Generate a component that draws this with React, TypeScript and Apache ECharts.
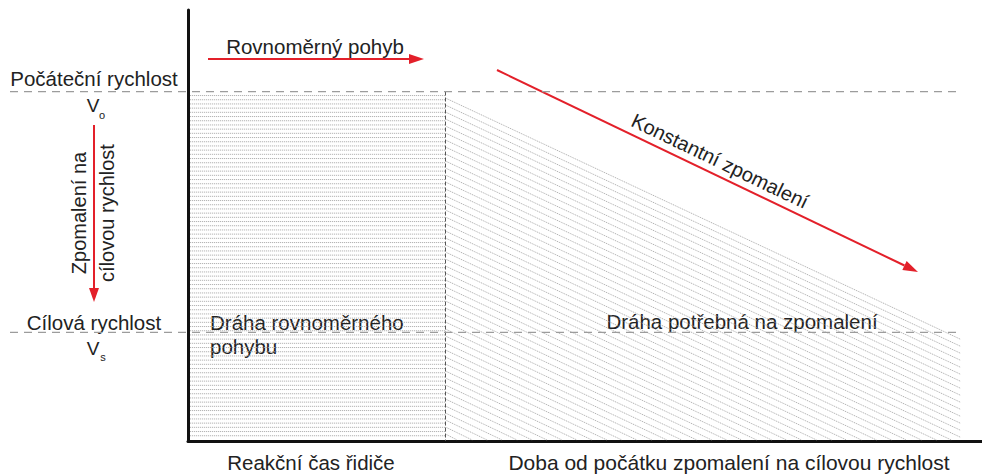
import React, { useEffect, useRef } from "react";
import * as echarts from "echarts";

// Phases along the time axis (s)
const reactionPhase = [0, 3]; // start, end of driver's reaction time
const brakingPhase = [3, 9]; // start, end of deceleration
// Speeds (km/h)
const initialSpeed = 90; // V0
const targetSpeed = 28; // Vs
const referenceSpeeds = [initialSpeed, targetSpeed];
const axisMax = { x: 9.25, y: 111 };

const FONT = "'Liberation Sans', Arial, sans-serif";
const TEXT = "#222";
const RED = "#e3202a";
const HATCH = { stroke: "#a6a6a6", lineWidth: 0.85, lineDash: [1.2, 0.8] };

export default function App() {
  const ref = useRef<HTMLDivElement>(null);
  useEffect(() => {
    document.body.style.margin = "0";
    const chart = echarts.init(ref.current!, undefined, { renderer: "svg" });

    const txt = (text: string, x: number, y: number, size = 20.5, extra: any = {}) => ({
      type: "text",
      x,
      y,
      silent: true,
      ...extra,
      style: {
        text,
        fontSize: size,
        fontFamily: FONT,
        fill: TEXT,
        align: extra.align || "center",
        verticalAlign: "middle",
      },
    });
    const redLine = (x1: number, y1: number, x2: number, y2: number) => ({
      type: "line",
      silent: true,
      shape: { x1, y1, x2, y2 },
      style: { stroke: RED, lineWidth: 2 },
    });
    const redHead = (pts: number[][]) => ({
      type: "polygon",
      silent: true,
      shape: { points: pts },
      style: { fill: RED },
    });

    // diagonal arrow head
    const dx = 421, dy = 202;
    const len = Math.hypot(dx, dy);
    const ux = dx / len, uy = dy / len;
    const tip = [918, 272];
    const bc = [tip[0] - 15 * ux, tip[1] - 15 * uy];
    const hw = 5;

    chart.setOption({
      animation: false,
      grid: { left: 188, top: 10, right: 0, bottom: 34 },
      xAxis: {
        type: "value",
        min: 0,
        max: axisMax.x,
        axisLine: { show: true, onZero: false, lineStyle: { color: "#111", width: 3 } },
        axisTick: { show: false },
        axisLabel: { show: false },
        splitLine: { show: false },
      },
      yAxis: {
        type: "value",
        min: 0,
        max: axisMax.y,
        axisLine: { show: true, onZero: false, lineStyle: { color: "#111", width: 3 } },
        axisTick: { show: false },
        axisLabel: { show: false },
        splitLine: { show: false },
      },
      series: [
        {
          type: "custom",
          clip: false,
          silent: true,
          data: [[reactionPhase[0], reactionPhase[1], initialSpeed]],
          renderItem: (params: any, api: any) => {
            const p0 = api.coord([api.value(0), api.value(2)]);
            const p1 = api.coord([api.value(1), 0]);
            const children: any[] = [];
            for (let y = p0[1] + 4; y < p1[1] - 2; y += 4.2) {
              children.push({
                type: "line",
                shape: { x1: p0[0] + 2, y1: y, x2: p1[0], y2: y },
                style: HATCH,
              });
            }
            children.push({
              type: "line",
              shape: { x1: p1[0], y1: p0[1], x2: p1[0], y2: p1[1] },
              style: { stroke: "#555", lineWidth: 1, lineDash: [4, 2] },
            });
            return { type: "group", children };
          },
        },
        {
          type: "custom",
          clip: false,
          silent: true,
          data: [[brakingPhase[0], brakingPhase[1], initialSpeed, targetSpeed]],
          renderItem: (params: any, api: any) => {
            const a = api.coord([api.value(0), api.value(2)]);
            const b = api.coord([api.value(1), api.value(3)]);
            const base = api.coord([api.value(1), 0])[1];
            const slope = (b[1] - a[1]) / (b[0] - a[0]);
            const children: any[] = [];
            for (let d = 7; a[1] + d < base - 1; d += 7) {
              let x2 = b[0];
              let y2 = b[1] + d;
              if (y2 > base - 1) {
                y2 = base - 1;
                x2 = a[0] + (y2 - a[1] - d) / slope;
              }
              children.push({
                type: "line",
                shape: { x1: a[0] + 1, y1: a[1] + d, x2, y2 },
                style: HATCH,
              });
            }
            return { type: "group", children };
          },
        },
        {
          type: "custom",
          clip: false,
          silent: true,
          data: referenceSpeeds.map((v) => [brakingPhase[1], v]),
          renderItem: (params: any, api: any) => {
            const p = api.coord([api.value(0), api.value(1)]);
            return {
              type: "line",
              shape: { x1: 10, y1: p[1], x2: p[0] - 2, y2: p[1] },
              style: { stroke: "#9c9c9c", lineWidth: 1.3, lineDash: [8, 6] },
            };
          },
        },
      ],
      graphic: [
        // horizontal arrow
        redLine(208, 59, 412, 59),
        redHead([[409, 54], [424, 59], [409, 64]]),
        txt("Rovnoměrný pohyb", 315, 46),
        // diagonal arrow
        redLine(497, 70, bc[0], bc[1]),
        redHead([
          [tip[0], tip[1]],
          [bc[0] + hw * uy, bc[1] - hw * ux],
          [bc[0] - hw * uy, bc[1] + hw * ux],
        ]),
        txt("Konstantní zpomalení", 720, 161, 20, { rotation: -Math.atan2(dy, dx) }),
        // left labels
        txt("Počáteční rychlost", 94, 78),
        txt("V", 93, 105, 19),
        txt("o", 102, 115, 11),
        redLine(94, 125, 94, 290),
        redHead([[89, 288], [99, 288], [94, 302]]),
        txt("Zpomalení na", 79, 213, 20, { rotation: Math.PI / 2 }),
        txt("cílovou rychlost", 107, 213, 20, { rotation: Math.PI / 2 }),
        txt("Cílová rychlost", 94, 322),
        txt("V", 93, 348, 19),
        txt("s", 103, 357, 11),
        // region labels
        txt("Dráha rovnoměrného", 210, 322, 20.5, { align: "left" }),
        txt("pohybu", 210, 346, 20.5, { align: "left" }),
        txt("Dráha potřebná na zpomalení", 742, 321),
        // axis labels
        txt("Reakční čas řidiče", 311, 462, 20.5),
        txt("Doba od počátku zpomalení na cílovou rychlost", 729, 462, 21),
      ],
    });
    return () => chart.dispose();
  }, []);
  return <div ref={ref} style={{ width: 982, height: 475 }} />;
}
